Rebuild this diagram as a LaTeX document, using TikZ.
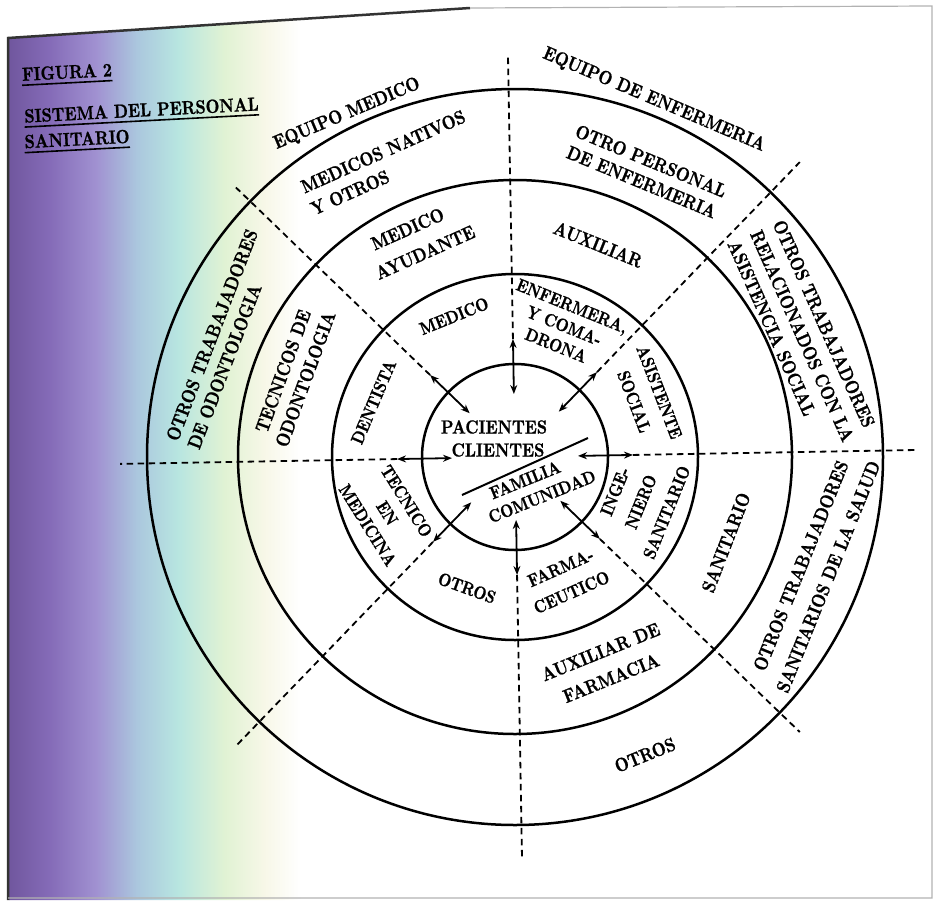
\documentclass[tikz,border=0pt]{standalone}
\usepackage{fontspec}
\newfontfamily\labfont{lmroman10-bold.otf}[FakeStretch=0.84, FakeBold=1]
\usetikzlibrary{calc,arrows.meta}
\pgfdeclarehorizontalshading{scanwash}{100bp}{rgb(0bp)=(0.44,0.34,0.62); rgb(25bp)=(0.44,0.34,0.62); rgb(32bp)=(0.52,0.42,0.72); rgb(40bp)=(0.63,0.57,0.82); rgb(47bp)=(0.67,0.78,0.87); rgb(54bp)=(0.72,0.90,0.88); rgb(62bp)=(0.88,0.95,0.83); rgb(69bp)=(0.97,0.97,0.91); rgb(75bp)=(1,1,1); rgb(100bp)=(1,1,1)}
\begin{document}
\begin{tikzpicture}[x=1pt,y=-1pt,
  ring/.style={line width=2.5pt},
  divider/.style={line width=1.8pt, dash pattern=on 6.5pt off 4.5pt},
  link/.style={line width=1.8pt, {Stealth[length=9pt,width=7pt]}-{Stealth[length=9pt,width=7pt]}},
  lab/.style={inner sep=0pt, align=center, font=\labfont\fontsize{19}{#1}\selectfont},
  lab/.default=22,
  labs/.style={inner sep=0pt, align=center, font=\labfont\fontsize{17.8}{#1}\selectfont},
  labs/.default=22,
  title/.style={inner sep=0pt, font=\labfont\fontsize{19}{22}\selectfont},
  uline/.style={line width=1.6pt}
]
\useasboundingbox (0,0) rectangle (937,900);
% scan wash and page edges
\shade[shading=scanwash] (9,38) -- (300,19) -- (300,900) -- (9,900) -- cycle;
\draw[line width=2.5pt, black!80] (8,900) -- (8,38) -- (470,8);
\draw[line width=1.2pt, black!30] (470,8) -- (932,6) -- (932,898) -- (8,898);

% circles
\coordinate (C) at (515,457);
\draw[ring] (C) circle[radius=93];
\draw[ring] (C) circle[radius=183];
\draw[ring] (C) circle[radius=277];
\draw[ring] (C) circle[radius=368];

% radial dividers and links
\foreach \a/\r/\n in {1/402/e, 46/410/ne, 91/402/n, 136/388/nw, 181/395/w, 226/400/sw, 271/401/s, 316/396/se}{
  \coordinate (do\n) at ($(C)+(-\a:\r)$);
  \coordinate (di\n) at ($(C)+(-\a:118)$);
  \coordinate (ai\n) at ($(C)+(-\a:63)$);
  \draw[divider] (di\n) -- (do\n);
  \draw[link] (di\n) -- (ai\n);
}

% separator inside the centre
\coordinate (s1) at (462,495);
\coordinate (s2) at (588,438);
\draw[line width=2pt] (s1) -- (s2);

% title
\node[title,rotate=3] (t1) at (67,72) {FIGURA 2};
\node[title,rotate=3] (t2) at (141.5,110) {SISTEMA DEL PERSONAL};
\node[title,rotate=3] (t3) at (77,139) {SANITARIO};
\draw[uline] ([yshift=-4pt]t1.south west) -- ([yshift=-4pt]t1.south east);
\draw[uline] ([yshift=-4pt]t2.south west) -- ([yshift=-4pt]t2.south east);
\draw[uline] ([yshift=-4pt]t3.south west) -- ([yshift=-4pt]t3.south east);

% outer ring and outside labels
\node[lab,rotate=23] (eqm) at (347,114) {EQUIPO MEDICO};
\node[lab,rotate=-23] (eqe) at (654,100) {EQUIPO DE ENFERMERIA};
\node[lab=24,align=left,rotate=24] (mn) at (388,162.5) {MEDICOS NATIVOS\\Y OTROS};
\node[lab=23,align=left,rotate=-22.5] (op) at (646.6,171.6) {OTRO PERSONAL\\DE ENFERMERIA};
\node[lab=24.8,align=left,rotate=-66] (as) at (802.3,335.9) {OTROS TRABAJADORES\\RELACIONADOS CON LA\\ASISTENCIA SOCIAL};
\node[lab=29.5,rotate=68] (os) at (814.5,571.2) {OTROS TRABAJADORES\\SANITARIOS DE LA SALUD};
\node[lab,rotate=22] (oto) at (645,755) {OTROS};
\node[lab=23,align=left,rotate=69] (od) at (222.7,339.1) {OTROS TRABAJADORES\\DE ODONTOLOGIA};

% third ring
\node[lab=28.6,rotate=24] (ma) at (419.2,239.4) {MEDICO\hspace*{12.8pt}\\AYUDANTE};
\node[lab,rotate=-22] (aux) at (598,244.5) {AUXILIAR};
\node[lab,rotate=69] (sanr) at (726,542.5) {SANITARIO};
\node[lab=28.3,rotate=22] (af) at (605.8,665) {AUXILIAR DE\\FARMACIA};
\node[lab=23.8,rotate=70] (to) at (294.2,375) {TECNICOS DE\\ODONTOLOGIA};

% second ring
\node[labs,rotate=22] (med) at (454,316) {MEDICO};
\node[labs=21.3,rotate=-22] (en) at (564.1,325.6) {ENFERMERA,\\Y COMA-\\DRONA};
\node[labs=27,rotate=-69] (asi) at (646.8,396.8) {ASISTENTE\\SOCIAL};
\node[labs=27.8,rotate=68] (ing) at (640.8,501.9) {INGE-\\NIERO\\SANITARIO};
\node[labs=27,rotate=24] (fa) at (566,580) {FARMA-\\CEUTICO};
\node[labs,rotate=-20] (ots) at (467,588) {OTROS};
\node[labs=22.8,rotate=-58] (te) at (387.2,513.1) {TECNICO\\EN\\MEDICINA};
\node[labs,rotate=67] (den) at (373.5,402) {DENTISTA};

% centre
\node[lab=23] (pc) at (498,438.5) {PACIENTES\hspace*{8pt}\\CLIENTES};
\node[labs=21.7,rotate=22] (fc) at (537.9,486.4) {FAMILIA\hspace*{19pt}\\COMUNIDAD};
\end{tikzpicture}
\end{document}
